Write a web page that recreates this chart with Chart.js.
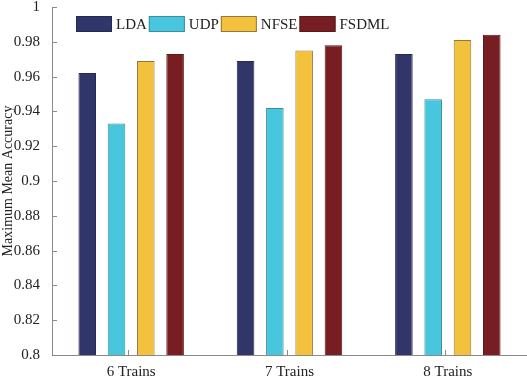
<!DOCTYPE html>
<html>
<head>
<meta charset="utf-8">
<script src="https://cdn.jsdelivr.net/npm/chart.js@4"></script>
<style>
  body { margin: 0; background: #fff; }
  #wrap { width: 527px; height: 377px; }
</style>
</head>
<body>
<div id="wrap"><canvas id="myChart"></canvas></div>
<script>
const categories = ['6 Trains', '7 Trains', '8 Trains'];
const ldaValues = [0.962, 0.969, 0.973];
const udpValues = [0.933, 0.942, 0.947];
const nfseValues = [0.969, 0.975, 0.981];
const fsdmlValues = [0.973, 0.978, 0.984];
const yTicks = [0.8, 0.82, 0.84, 0.86, 0.88, 0.9, 0.92, 0.94, 0.96, 0.98, 1];

const serif = 'Liberation Serif';
const axisGray = '#8a8a8a';

// little ticks pointing into the plot, like the matlab figure
const innerTicks = {
  id: 'innerTicks',
  afterDraw(chart) {
    const ctx = chart.ctx;
    const area = chart.chartArea;
    const x = chart.scales.x;
    const y = chart.scales.y;
    ctx.save();
    ctx.strokeStyle = axisGray;
    ctx.lineWidth = 1;
    y.ticks.forEach((t, i) => {
      const py = Math.round(y.getPixelForTick(i)) + 0.5;
      ctx.beginPath();
      ctx.moveTo(area.left, py);
      ctx.lineTo(area.left + 5, py);
      ctx.stroke();
    });
    x.ticks.forEach((t, i) => {
      const px = Math.round(x.getPixelForTick(i)) - 2.5;
      ctx.beginPath();
      ctx.moveTo(px, area.bottom);
      ctx.lineTo(px, area.bottom - 5);
      ctx.stroke();
    });
    ctx.restore();
  }
};

// legend sits inside the plot area
const insideLegend = {
  id: 'insideLegend',
  afterDraw(chart) {
    const ctx = chart.ctx;
    let lx = 76;
    const ly = 16;
    ctx.save();
    ctx.font = '15px "' + serif + '"';
    ctx.textBaseline = 'middle';
    chart.data.datasets.forEach((ds) => {
      ctx.fillStyle = ds.backgroundColor;
      ctx.fillRect(lx, ly, 36, 16);
      ctx.strokeStyle = ds.borderColor;
      ctx.lineWidth = 1;
      ctx.strokeRect(lx + 0.5, ly + 0.5, 35, 15);
      ctx.fillStyle = '#222';
      ctx.fillText(ds.label, lx + 40, ly + 9);
      lx += 40 + ctx.measureText(ds.label).width + 2;
    });
    ctx.restore();
  }
};

document.addEventListener('DOMContentLoaded', () => {
  const ctx = document.getElementById('myChart').getContext('2d');
  const myChart = new Chart(ctx, {
    type: 'bar',
    data: {
      labels: categories,
      datasets: [
        { label: 'LDA', data: ldaValues, backgroundColor: '#30366a', borderColor: '#262a50' },
        { label: 'UDP', data: udpValues, backgroundColor: '#48c6de', borderColor: '#3a8ea0' },
        { label: 'NFSE', data: nfseValues, backgroundColor: '#f3c13b', borderColor: '#8f7a3c' },
        { label: 'FSDML', data: fsdmlValues, backgroundColor: '#761e22', borderColor: '#5a1a1c' }
      ]
    },
    options: {
      responsive: true,
      maintainAspectRatio: false,
      animation: false,
      layout: { padding: { top: 7, right: 0, left: 0, bottom: 0 } },
      datasets: {
        bar: { borderWidth: 1, categoryPercentage: 0.74, barPercentage: 0.6 }
      },
      plugins: {
        legend: { display: false },
        tooltip: { enabled: false }
      },
      scales: {
        x: {
          grid: { display: false },
          border: { color: axisGray, width: 1 },
          ticks: { color: '#222', padding: 0, font: { family: serif, size: 15 } },
          afterFit: (scale) => { scale.height = 22; scale.paddingLeft = 0; scale.paddingRight = 0; }
        },
        y: {
          min: 0.8,
          max: 1,
          grid: { display: false },
          border: { color: axisGray, width: 1 },
          afterBuildTicks: (scale) => { scale.ticks = yTicks.map((v) => ({ value: v })); },
          ticks: {
            color: '#222',
            padding: 4,
            font: { family: serif, size: 15 },
            callback: (v) => String(v)
          },
          title: {
            display: true,
            text: 'Maximum Mean Accuracy',
            color: '#222',
            padding: { top: 0, bottom: 0 },
            font: { family: serif, size: 14 }
          },
          afterFit: (scale) => { scale.width = 52; scale.paddingTop = 0; scale.paddingBottom = 0; }
        }
      }
    },
    plugins: [innerTicks, insideLegend]
  });
});
</script>
</body>
</html>
